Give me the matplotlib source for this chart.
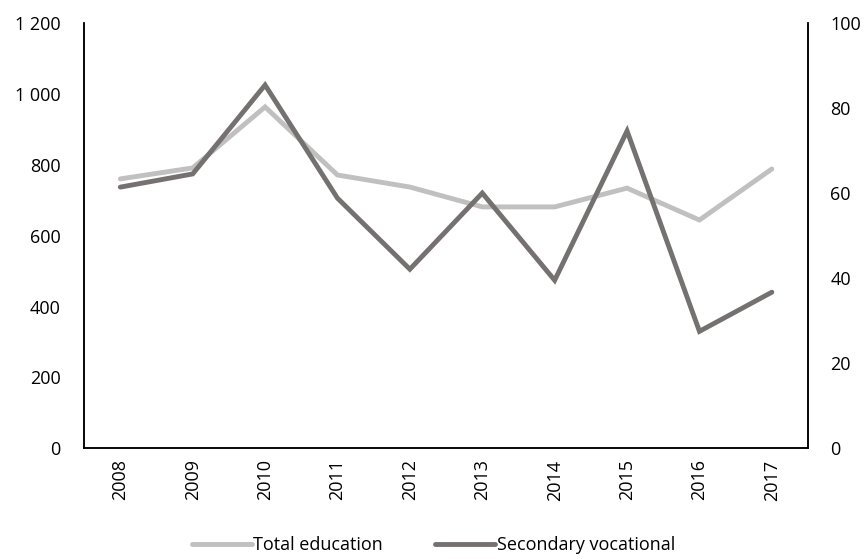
import numpy as np
import matplotlib.pyplot as plt
from matplotlib.ticker import FuncFormatter

######################################

years=['2008','2009','2010','2011','2012','2013','2014','2015','2016','2017']
totalEdu=[760,791,963,771,737,681,681,734,644,788]
secVoc=[61.4,64.5,85.4,58.8,42.1,60.0,39.5,74.6,27.5,36.7]

lightCol='#c0c0c0'
darkCol='#767171'

######################################

plt.rcParams['font.family']=['Open Sans','DejaVu Sans']
plt.rcParams['font.size']=13

fig=plt.figure(figsize=(8.67,5.59),dpi=100)
ax=fig.add_axes([0.097,0.198,0.835,0.761])
ax2=ax.twinx()

x=np.arange(len(years))
l1,=ax.plot(x,totalEdu,color=lightCol,lw=3.5,solid_capstyle='round',solid_joinstyle='miter',label='Total education')
l2,=ax2.plot(x,secVoc,color=darkCol,lw=3.5,solid_capstyle='round',solid_joinstyle='miter',label='Secondary vocational')

# left axis, space as thousands separator
ax.set_ylim(0,1200)
ax.set_yticks(np.arange(0,1201,200))
ax.yaxis.set_major_formatter(FuncFormatter(lambda v,p:'{:,.0f}'.format(v).replace(',',' ')))
ax2.set_ylim(0,100)
ax2.set_yticks(np.arange(0,101,20))
ax.set_xlim(-0.5,len(years)-0.5)
ax.set_xticks(x)
ax.set_xticklabels(years,rotation=90)

for a in (ax,ax2):
  a.spines['top'].set_visible(False)
  for s in ('left','right','bottom'):
    a.spines[s].set_linewidth(1.1)
    a.spines[s].set_color('black')
  a.tick_params(length=0,colors='black',labelsize=13)
ax.tick_params(axis='y',pad=17)
ax2.tick_params(axis='y',pad=16)
ax.tick_params(axis='x',pad=8)

fig.legend(handles=[l1,l2],loc='lower center',bbox_to_anchor=(0.5,-0.02),ncol=2,frameon=False,
           handlelength=3.3,handletextpad=0.1,columnspacing=2.9,fontsize=13)

fig.savefig('out.png',dpi=100)
